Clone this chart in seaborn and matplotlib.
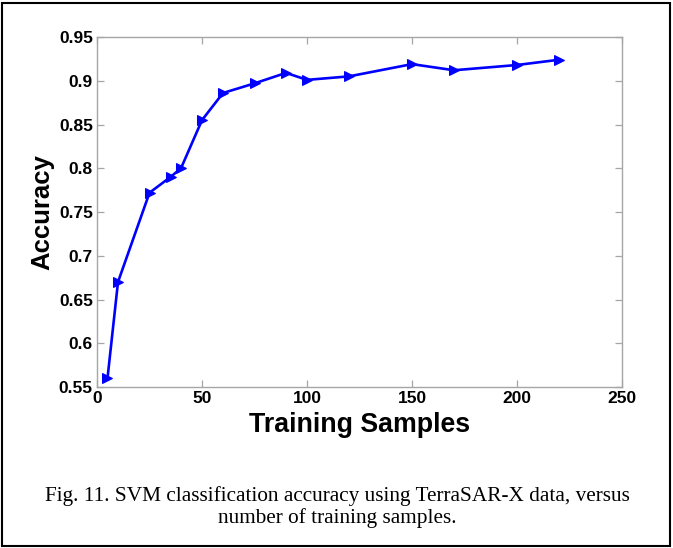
import matplotlib
matplotlib.use("Agg")
import matplotlib.pyplot as plt
import seaborn as sns
import pandas as pd
from matplotlib.patches import Rectangle

samples = [5, 10, 25, 35, 40, 50, 60, 75, 90, 100, 120, 150, 170, 200, 220]
accuracy = [0.560, 0.670, 0.772, 0.790, 0.800, 0.855, 0.886, 0.897, 0.909, 0.901, 0.905, 0.919, 0.912, 0.918, 0.924]
x_ticks = [0, 50, 100, 150, 200, 250]
y_ticks = [0.55, 0.6, 0.65, 0.7, 0.75, 0.8, 0.85, 0.9, 0.95]
y_tick_labels = ["0.55", "0.6", "0.65", "0.7", "0.75", "0.8", "0.85", "0.9", "0.95"]
caption = "Fig. 11. SVM classification accuracy using TerraSAR-X data, versus\nnumber of training samples."

sns.set_theme(style="white")
plt.rcParams['font.family'] = ['Liberation Sans', 'DejaVu Sans']

df = pd.DataFrame({"Training Samples": samples, "Accuracy": accuracy})

fig = plt.figure(figsize=(6.73, 5.48), dpi=100)
ax = fig.add_axes([97/673, 1 - 387/548, (622 - 97)/673, (387 - 37)/548])

sns.lineplot(data=df, x="Training Samples", y="Accuracy", ax=ax,
             color="#0000ff", linewidth=1.9, marker=">", markersize=7,
             markeredgecolor="#0000ff", markerfacecolor="#0000ff")

ax.set_xlim(0, 250)
ax.set_ylim(0.55, 0.95)
ax.set_xticks(x_ticks)
ax.set_xticklabels([str(t) for t in x_ticks])
ax.set_yticks(y_ticks)
ax.set_yticklabels(y_tick_labels)

for s in ax.spines.values():
    s.set_visible(True)
    s.set_color("#a6a6a6")
    s.set_linewidth(1.0)

ax.tick_params(axis="both", which="both", direction="in", length=5, width=0.9,
               color="#a6a6a6", top=True, right=True, bottom=True, left=True,
               labelsize=12.5, labelcolor="black", pad=3)
for lbl in ax.get_xticklabels() + ax.get_yticklabels():
    lbl.set_fontweight("bold")

ax.set_xlabel("Training Samples", fontsize=19.3, fontweight="bold", labelpad=4, color="black")
ax.set_ylabel("Accuracy", fontsize=18.5, fontweight="bold", labelpad=3, color="black")

fig.text(337/673, 1 - 507/548, caption, ha="center", va="center",
         fontsize=15.3, family=["Liberation Serif", "DejaVu Serif"], color="black",
         linespacing=1.2)

fig.patches.append(Rectangle((2/673, 2/548), 668/673, 543/548, transform=fig.transFigure,
                             fill=False, edgecolor="black", linewidth=1.5))

fig.savefig("out.png", dpi=100)
